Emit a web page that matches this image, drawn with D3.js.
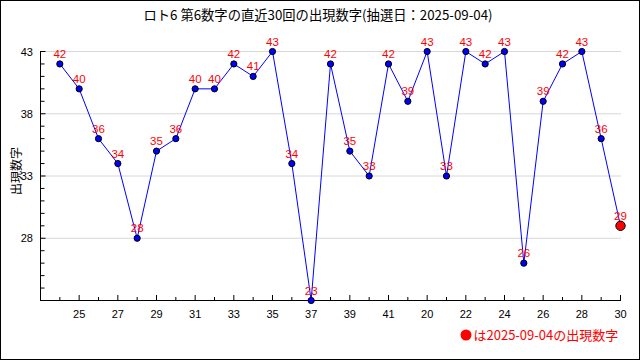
<!DOCTYPE html>
<html><head><meta charset="utf-8">
<script src="https://cdn.jsdelivr.net/npm/d3@7"></script>
<style>body{margin:0;background:#fff}svg{display:block}text{font-family:"Noto Sans CJK JP","DejaVu Sans",sans-serif}.num{font-family:"Liberation Sans",Arial,sans-serif}</style>
</head><body><svg id="c" width="640" height="360"></svg>
<script>
const title = "ロト6 第6数字の直近30回の出現数字(抽選日：2025-09-04)";
const yLabel = "出現数字";
const legendText = "は2025-09-04の出現数字";
const values = [42,40,36,34,28,35,36,40,40,42,41,43,34,23,42,35,33,42,39,43,33,43,42,43,26,39,42,43,36,29];
const xTickLabels = ["25","27","29","31","33","35","37","39","41","20","22","24","26","28","30"];
const yTicks = [28,33,38,43];

const svg = d3.select("#c");
svg.append("rect").attr("x",0.5).attr("y",0.5).attr("width",639).attr("height",359).attr("fill","#fff").attr("stroke","#000");

const x = d3.scaleLinear().domain([0,30]).range([40.5,620.5]);
const y = d3.scaleLinear().domain([23,43]).range([300.5,51.5]);

// grid
svg.append("g").selectAll("line").data(yTicks).join("line")
  .attr("x1",41).attr("x2",621).attr("y1",d=>y(d)).attr("y2",d=>y(d))
  .attr("stroke","#d8d8d8");

// y axis
const yAll = d3.range(23,44);
const gy = svg.append("g");
gy.append("line").attr("x1",40.5).attr("x2",40.5).attr("y1",51).attr("y2",301).attr("stroke","#000");
gy.selectAll("line.t").data(yAll.filter(d=>d>23)).join("line").attr("class","t")
  .attr("x1",40.5).attr("x2",d=>yTicks.includes(d)?45.5:44.5).attr("y1",d=>y(d)).attr("y2",d=>y(d)).attr("stroke","#000");
gy.selectAll("text").data(yTicks).join("text").attr("class","num")
  .attr("x",33).attr("y",d=>y(d)+4).attr("text-anchor","end").attr("font-size",11).text(d=>d);

// x axis
const gx = svg.append("g");
gx.append("line").attr("x1",40).attr("x2",621).attr("y1",300.5).attr("y2",300.5).attr("stroke","#000");
const xAll = d3.range(1,31);
gx.selectAll("line.t").data(xAll).join("line").attr("class","t")
  .attr("x1",d=>x(d)).attr("x2",d=>x(d)).attr("y1",d=>d%2===0?295:297).attr("y2",300).attr("stroke","#000");
gx.selectAll("text").data(xTickLabels).join("text").attr("class","num")
  .attr("x",(d,i)=>x((i+1)*2)).attr("y",317.5).attr("text-anchor","middle").attr("font-size",11).text(d=>d);

// y label
svg.append("text").attr("transform","translate(21,171) rotate(-90)").attr("text-anchor","middle").attr("font-size",12).text(yLabel);

// title
svg.append("text").attr("x",318).attr("y",19.5).attr("text-anchor","middle").attr("font-size",13.3).text(title);

// line
const line = d3.line().x((d,i)=>x(i+1)).y(d=>y(d));
svg.append("path").datum(values).attr("d",line).attr("fill","none").attr("stroke","#0000ff").attr("stroke-width",1);

// points
const n = values.length;
svg.append("g").selectAll("circle").data(values).join("circle")
  .attr("cx",(d,i)=>x(i+1)).attr("cy",d=>y(d))
  .attr("r",(d,i)=>i===n-1?4.7:3.1)
  .attr("fill",(d,i)=>i===n-1?"#ff0000":"#0000ff").attr("stroke","#000").attr("stroke-width",1);

// value labels
svg.append("g").selectAll("text").data(values).join("text").attr("class","num")
  .attr("x",(d,i)=>x(i+1)).attr("y",d=>y(d)-6).attr("text-anchor","middle")
  .attr("font-size",11.5).attr("fill","#ff0000").text(d=>d);

// legend
svg.append("circle").attr("cx",466).attr("cy",335).attr("r",5.5).attr("fill","#ff0000");
svg.append("text").attr("x",473.5).attr("y",339.5).attr("font-size",13).attr("fill","#ff0000").text(legendText);
</script></body></html>
